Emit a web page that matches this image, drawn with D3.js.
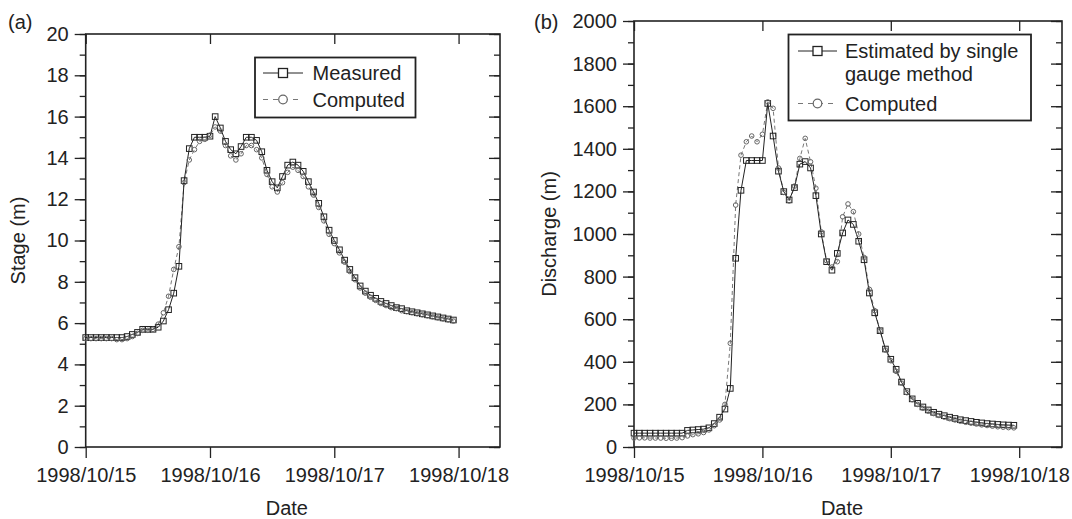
<!DOCTYPE html>
<html>
<head>
<meta charset="utf-8">
<script src="https://cdn.jsdelivr.net/npm/d3@7"></script>
<style>
  body { margin: 0; background: #fff; }
  svg { font-family: "Liberation Sans", Arial, sans-serif; }
  .axis text { font-size: 20px; fill: #222; }
  .axis line { stroke: #222; stroke-width: 1.3; }
  .axis path { display: none; }
</style>
</head>
<body>
<svg width="1072" height="519"></svg>
<script>
// hourly readings from 1998/10/15 00:00
var startTime = Date.UTC(1998, 9, 15, 0);
var dayTicks = ["1998/10/15", "1998/10/16", "1998/10/17", "1998/10/18"];

// (a) stage (m)
var stageMeasured = [5.3, 5.3, 5.3, 5.3, 5.3, 5.3, 5.3, 5.3, 5.35, 5.45,
  5.55, 5.7, 5.7, 5.7, 5.8, 6.1, 6.65, 7.45, 8.75, 12.9,
  14.45, 15.0, 15.0, 15.0, 15.05, 16.0, 15.45, 14.8, 14.4, 14.2,
  14.55, 15.0, 15.0, 14.85, 14.3, 13.4, 12.85, 12.55, 13.1, 13.65,
  13.8, 13.65, 13.35, 12.85, 12.35, 11.8, 11.15, 10.5, 10.0, 9.55,
  9.05, 8.6, 8.2, 7.8, 7.55, 7.35, 7.2, 7.05, 6.95, 6.85,
  6.75, 6.7, 6.6, 6.55, 6.5, 6.45, 6.4, 6.35, 6.3, 6.25,
  6.2, 6.15];
var stageComputed = [5.25, 5.25, 5.25, 5.25, 5.25, 5.25, 5.2, 5.2, 5.25, 5.35,
  5.5, 5.65, 5.65, 5.7, 5.95, 6.5, 7.3, 8.6, 9.7, 12.8,
  13.9, 14.4, 14.8, 14.9, 15.1, 15.5, 15.3, 14.6, 14.1, 13.9,
  14.2, 14.6, 14.6, 14.4, 14.0, 13.2, 12.6, 12.35, 12.8, 13.3,
  13.55, 13.4, 13.1, 12.6, 12.2, 11.6, 10.95, 10.3, 9.85, 9.4,
  8.95, 8.5, 8.1, 7.7, 7.45, 7.25, 7.1, 6.95, 6.85, 6.75,
  6.7, 6.6, 6.55, 6.5, 6.45, 6.4, 6.35, 6.3, 6.25, 6.2,
  6.15, 6.1];

// (b) discharge
var dischargeEstimated = [65, 65, 65, 65, 65, 65, 65, 65, 65, 65,
  78, 80, 82, 84, 90, 110, 140, 178, 275, 886,
  1205, 1345, 1345, 1345, 1345, 1613, 1460, 1295, 1199, 1160,
  1218, 1328, 1340, 1310, 1180, 1000, 870, 830, 909, 1005,
  1066, 1045, 966, 879, 723, 630, 546, 460, 412, 365,
  305, 260, 226, 205, 188, 174, 163, 154, 147, 140,
  134, 128, 124, 120, 116, 113, 110, 108, 106, 104,
  103, 102];
var dischargeComputed = [42, 43, 43, 42, 42, 42, 41, 41, 42, 44,
  52, 58, 62, 68, 80, 100, 127, 200, 487, 1136,
  1370, 1433, 1460, 1433, 1468, 1620, 1590, 1310, 1195, 1155,
  1225, 1355, 1449, 1339, 1215, 1010, 875, 845, 870, 1081,
  1141, 1105, 1000, 890, 740, 640, 545, 455, 405, 355,
  300, 255, 222, 200, 182, 168, 157, 148, 140, 133,
  127, 121, 116, 112, 108, 104, 101, 98, 95, 93,
  91, 90];

var svg = d3.select("svg");
var parseDay = d3.utcParse("%Y/%m/%d");
var fmtDay = d3.utcFormat("%Y/%m/%d");
var tOf = i => new Date(startTime + i * 3600 * 1000);
var xDomain = [new Date(startTime), new Date(startTime + 80 * 3600 * 1000)];

function panel(o) {
  var x = d3.scaleUtc().domain(xDomain).range([o.left, o.right]);
  var y = d3.scaleLinear().domain([0, o.ymax]).range([o.bottom, o.top]);
  var g = svg.append("g");
  var days = dayTicks.map(parseDay);

  // ticks
  g.append("g").attr("class", "axis").attr("transform", "translate(" + o.left + ",0)")
    .call(d3.axisLeft(y).tickValues(d3.range(0, o.ymax + 1e-9, o.minor)).tickSize(6).tickFormat(""));
  g.append("g").attr("class", "axis").attr("transform", "translate(" + o.left + ",0)")
    .call(d3.axisLeft(y).tickValues(d3.range(0, o.ymax + 1e-9, o.major)).tickSize(11).tickPadding(6)
      .tickFormat(d3.format("d")));
  g.append("g").attr("class", "axis").attr("transform", "translate(" + o.right + ",0)")
    .call(d3.axisRight(y).tickValues(d3.range(0, o.ymax + 1e-9, o.minor)).tickSize(-6).tickFormat(""));
  g.append("g").attr("class", "axis").attr("transform", "translate(" + o.right + ",0)")
    .call(d3.axisRight(y).tickValues(d3.range(0, o.ymax + 1e-9, o.major)).tickSize(-11).tickFormat(""));
  g.append("g").attr("class", "axis").attr("transform", "translate(0," + o.bottom + ")")
    .call(d3.axisBottom(x).tickValues(days).tickSize(11).tickPadding(10).tickFormat(fmtDay));
  g.append("g").attr("class", "axis").attr("transform", "translate(0," + o.top + ")")
    .call(d3.axisTop(x).tickValues(days).tickSize(-10).tickFormat(""));

  g.append("rect")
    .attr("x", o.left).attr("y", o.top)
    .attr("width", o.right - o.left).attr("height", o.bottom - o.top)
    .attr("fill", "none").attr("stroke", "#222").attr("stroke-width", 1.6);

  var line = d3.line().x((d, i) => x(tOf(i))).y(d => y(d));

  // computed: dashed grey with circles
  g.append("path").datum(o.comp).attr("d", line)
    .attr("fill", "none").attr("stroke", "#777").attr("stroke-width", 1)
    .attr("stroke-dasharray", "4,3");
  // measured / estimated: solid with squares
  g.append("path").datum(o.meas).attr("d", line)
    .attr("fill", "none").attr("stroke", "#222").attr("stroke-width", 1);
  g.append("g").selectAll("rect").data(o.meas).enter().append("rect")
    .attr("x", (d, i) => x(tOf(i)) - 2.8).attr("y", d => y(d) - 2.8)
    .attr("width", 5.6).attr("height", 5.6)
    .attr("fill", "none").attr("stroke", "#222").attr("stroke-width", 1);
  g.append("g").selectAll("circle").data(o.comp).enter().append("circle")
    .attr("cx", (d, i) => x(tOf(i))).attr("cy", d => y(d)).attr("r", 2.3)
    .attr("fill", "none").attr("stroke", "#666").attr("stroke-width", 1);

  // titles
  g.append("text").attr("x", o.tag[0]).attr("y", o.tag[1])
    .attr("font-size", 20).attr("fill", "#222").text(o.tagText);
  g.append("text")
    .attr("transform", "translate(" + o.ytitleX + "," + ((o.top + o.bottom) / 2) + ") rotate(-90)")
    .attr("text-anchor", "middle").attr("font-size", 20).attr("fill", "#222").text(o.ytitle);
  g.append("text").attr("x", (o.left + o.right) / 2 - 6).attr("y", 515)
    .attr("text-anchor", "middle").attr("font-size", 20).attr("fill", "#222").text("Date");

  // legend
  var L = o.legend;
  g.append("rect").attr("x", L.x0).attr("y", L.y0)
    .attr("width", L.x1 - L.x0).attr("height", L.y1 - L.y0)
    .attr("fill", "#fff").attr("stroke", "#222").attr("stroke-width", 1.8);
  var sx0 = L.sample[0], sx1 = L.sample[1], sm = (sx0 + sx1) / 2;
  g.append("line").attr("x1", sx0).attr("x2", sx1).attr("y1", L.rows[0]).attr("y2", L.rows[0])
    .attr("stroke", "#222").attr("stroke-width", 1);
  g.append("rect").attr("x", sm - 4.5).attr("y", L.rows[0] - 4.5).attr("width", 9).attr("height", 9)
    .attr("fill", "#fff").attr("stroke", "#222").attr("stroke-width", 1.3);
  g.append("line").attr("x1", sx0).attr("x2", sx1).attr("y1", L.rows[2]).attr("y2", L.rows[2])
    .attr("stroke", "#777").attr("stroke-width", 1).attr("stroke-dasharray", "5,5");
  g.append("circle").attr("cx", sm).attr("cy", L.rows[2]).attr("r", 4.3)
    .attr("fill", "#fff").attr("stroke", "#666").attr("stroke-width", 1.2);
  L.labels.forEach(function(t, k) {
    g.append("text").attr("x", L.tx).attr("y", L.textRows[k] + 7)
      .attr("font-size", 20).attr("fill", "#222").text(t);
  });
}

panel({
  left: 85.7, right: 500, top: 34, bottom: 447, ymax: 20, major: 2, minor: 1,
  meas: stageMeasured, comp: stageComputed,
  tag: [8, 29], tagText: "(a)", ytitle: "Stage (m)", ytitleX: 25,
  legend: { x0: 255, x1: 415.5, y0: 57.5, y1: 117.5, sample: [263, 303],
            rows: [73, 0, 99.5], textRows: [73, 99.5], tx: 312.5,
            labels: ["Measured", "Computed"] }
});

panel({
  left: 634, right: 1062, top: 21, bottom: 447, ymax: 2000, major: 200, minor: 100,
  meas: dischargeEstimated, comp: dischargeComputed,
  tag: [534, 29], tagText: "(b)", ytitle: "Discharge (m)", ytitleX: 556,
  legend: { x0: 788.5, x1: 1031, y0: 34.5, y1: 120.5, sample: [798, 837],
            rows: [51, 0, 103.5], textRows: [51, 73.5, 103.5], tx: 845,
            labels: ["Estimated by single", "gauge method", "Computed"] }
});
</script>
</body>
</html>
